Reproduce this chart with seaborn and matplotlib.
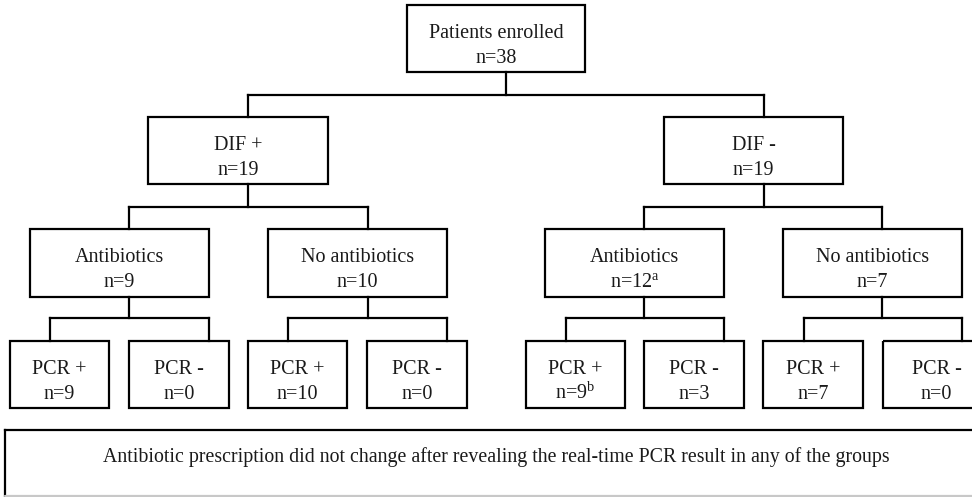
import matplotlib
matplotlib.use("Agg")
import matplotlib.pyplot as plt
from matplotlib.patches import Rectangle
import seaborn as sns

# ---------------- data ----------------
level0_labels = ["Patients enrolled"]
level0_counts = ["38"]
level1_labels = ["DIF +", "DIF -"]
level1_counts = ["19", "19"]
level2_labels = ["Antibiotics", "No antibiotics", "Antibiotics", "No antibiotics"]
level2_counts = ["9", "10", "12", "7"]
level2_sup = ["", "", "a", ""]
level3_labels = ["PCR +", "PCR -", "PCR +", "PCR -", "PCR +", "PCR -", "PCR +", "PCR -"]
level3_counts = ["9", "0", "10", "0", "9", "3", "7", "0"]
level3_sup = ["", "", "", "", "b", "", "", ""]
footer_text = ("Antibiotic prescription did not change after revealing the "
               "real-time PCR result in any of the groups")

# ---------------- layout (pixels) ----------------
W, H = 972, 497
lvl0_x = [(407, 585)]
lvl1_x = [(148, 328), (664, 843)]
lvl2_x = [(30, 209), (268, 447), (545, 724), (783, 962)]
lvl3_x = [(10, 109), (129, 229), (248, 347), (367, 467),
          (526, 625), (644, 744), (763, 863), (883, 990)]
lvl_y = [(5, 72), (117, 184), (229, 297), (341, 408)]
# connectors: (stem_x, bar_y, bar_x0, bar_x1)
conn0 = [(506, 95, 248, 764)]
conn1 = [(248, 207, 129, 368), (764, 207, 644, 882)]
conn2 = [(129, 318, 50, 209), (368, 318, 288, 447),
         (644, 318, 566, 724), (882, 318, 804, 962)]

sns.set_theme(style="white")
plt.rcParams["font.family"] = ["Liberation Serif", "DejaVu Serif"]
plt.rcParams["mathtext.fontset"] = "custom"
plt.rcParams["mathtext.rm"] = "Liberation Serif"
plt.rcParams["mathtext.it"] = "Liberation Serif:italic"

fig = plt.figure(figsize=(W / 100, H / 100), dpi=100)
ax = fig.add_axes([0, 0, 1, 1])
ax.set_xlim(0, W)
ax.set_ylim(H, 0)
ax.axis("off")

LW = 1.6
TXT = "#1a1a1a"
FS = 14.5


def box(x0, x1, y0, y1, label, count, sup=""):
    ax.add_patch(Rectangle((x0, y0), x1 - x0, y1 - y0, fill=False,
                           edgecolor="black", linewidth=LW))
    cx = (x0 + x1) / 2
    ax.text(cx, y0 + 33, label, ha="center", va="baseline", fontsize=FS, color=TXT)
    t = "n=" + count
    if sup:
        t = t + r"$^{\mathrm{" + sup + "}}$"
    ax.text(cx, y0 + 58, t, ha="center", va="baseline", fontsize=FS, color=TXT)


def connect(conns, y_top, y_bot):
    for sx, by, bx0, bx1 in conns:
        ax.plot([sx, sx], [y_top, by], color="black", lw=LW, solid_capstyle="projecting")
        ax.plot([bx0, bx1], [by, by], color="black", lw=LW, solid_capstyle="projecting")
        ax.plot([bx0, bx0], [by, y_bot], color="black", lw=LW, solid_capstyle="projecting")
        ax.plot([bx1, bx1], [by, y_bot], color="black", lw=LW, solid_capstyle="projecting")


for (x0, x1), lab, cnt in zip(lvl0_x, level0_labels, level0_counts):
    box(x0, x1, *lvl_y[0], lab, cnt)
for (x0, x1), lab, cnt in zip(lvl1_x, level1_labels, level1_counts):
    box(x0, x1, *lvl_y[1], lab, cnt)
for (x0, x1), lab, cnt, s in zip(lvl2_x, level2_labels, level2_counts, level2_sup):
    box(x0, x1, *lvl_y[2], lab, cnt, s)
for (x0, x1), lab, cnt, s in zip(lvl3_x, level3_labels, level3_counts, level3_sup):
    box(x0, x1, *lvl_y[3], lab, cnt, s)

connect(conn0, lvl_y[0][1], lvl_y[1][0])
connect(conn1, lvl_y[1][1], lvl_y[2][0])
connect(conn2, lvl_y[2][1], lvl_y[3][0])

# footer box (top and left dark, bottom edge light grey as in reference)
ax.plot([5, 990], [430, 430], color="black", lw=LW, solid_capstyle="projecting")
ax.plot([5, 5], [430, 496], color="black", lw=LW, solid_capstyle="projecting")
ax.plot([5, 990], [496, 496], color="#c8c8c8", lw=LW)
ax.text(496, 462, footer_text, ha="center", va="baseline", fontsize=14.3, color=TXT)

fig.savefig("out.png", dpi=100, facecolor="white")
